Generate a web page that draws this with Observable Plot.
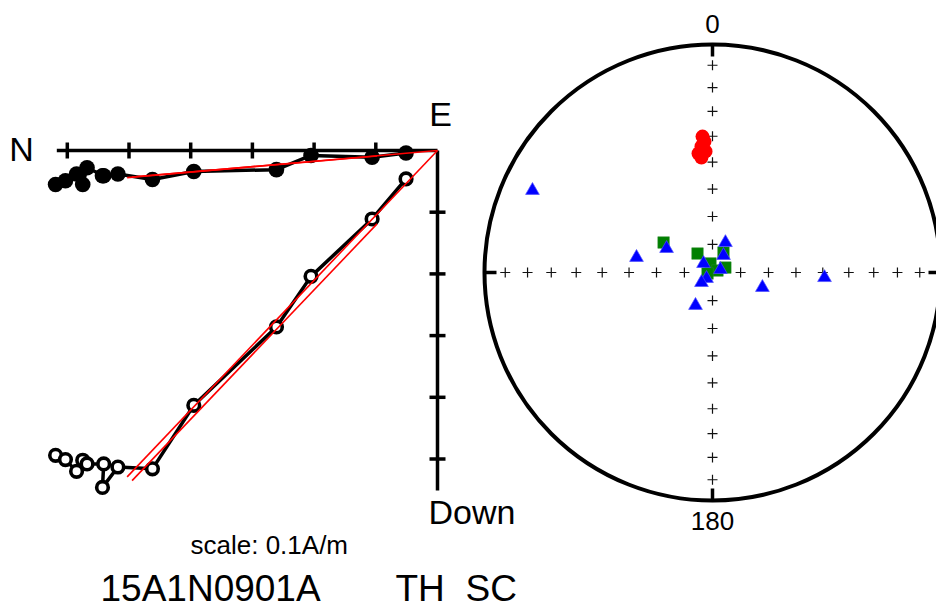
<!DOCTYPE html>
<html><head><meta charset="utf-8">
<script src="https://cdn.jsdelivr.net/npm/d3@7"></script>
<script src="https://cdn.jsdelivr.net/npm/@observablehq/plot@0.6"></script>
<style>
body{margin:0;background:#fff;}
#wrap{position:relative;width:936px;height:612px;overflow:hidden;background:#fff;}
#wrap svg{position:absolute;top:0;}
</style></head><body><div id="wrap"></div>
<script>
// ---- Zijderveld data: demagnetization steps (A/m) ----
const stepN = [0.619, 0.603, 0.585, 0.575, 0.568, 0.541, 0.543, 0.518, 0.462, 0.395, 0.261, 0.205, 0.106, 0.051];
const stepE = [-0.055, -0.049, -0.038, -0.055, -0.028, -0.041, -0.041, -0.038, -0.047, -0.034, -0.031, -0.008, -0.011, -0.004];
const stepD = [0.494, 0.501, 0.520, 0.502, 0.508, 0.508, 0.546, 0.513, 0.516, 0.413, 0.286, 0.204, 0.111, 0.046];
// PCA fit line endpoints (anchored, free)
const fitN = [[0, 0.503], [0.098, 0.495]];
const fitE = [[0, -0.044], [-0.009, -0.043]];
const fitD = [[0, 0.529], [0.119, 0.535]];
// axis ticks (A/m)
const tickN = [0.1, 0.2, 0.3, 0.4, 0.5, 0.6];
const tickD = [0.1, 0.2, 0.3, 0.4, 0.5];
const axisEndN = 0.617, axisEndD = 0.551;

// ---- Stereonet data (declination, inclination in degrees) ----
const redDec = [355.8, 356.5, 355.0, 356.7, 353.3, 354.5];
const redInc = [40.0, 42.0, 43.8, 45.8, 46.4, 48.0];
const blueDec = [294.5, 281.2, 297.6, 23.4, 32.9, 315, 69.4, 225, 227.7, 207.3, 106.7, 92.6];
const blueInc = [14.3, 62.2, 71.5, 78.4, 82.8, 85.5, 87.0, 87.0, 84.7, 76.8, 71.4, 49.3];
const greenDec = [301.5, 321.7, 28.8, 347.5, 68.2, 258.7, 69];
const greenInc = [69.5, 81.4, 81.9, 86.7, 88.1, 88.2, 85.1];
const gridInc = [10, 20, 30, 40, 50, 60, 70, 80];
const gridDec = [0, 90, 180, 270];
const dirLabels = ["0", "180"];

// ---- layout ----
const W = 936, H = 612, K = 617, OX = 437, OY = 150;
const FONT = "'Liberation Sans', Arial, Helvetica, sans-serif";
const tl = 8 / K;

const steps = stepN.map((n, i) => ({n, e: stepE[i], d: stepD[i]}));
const fits = fitN.map((n, i) => ({n1: n[0], n2: n[1], e1: fitE[i][0], e2: fitE[i][1], d1: fitD[i][0], d2: fitD[i][1]}));

const left = Plot.plot({
  width: W, height: H, margin: 0,
  x: {type: "linear", domain: [OX / K, (OX - W) / K], range: [0, W], axis: null},
  y: {type: "linear", domain: [-OY / K, (H - OY) / K], range: [0, H], axis: null},
  style: {background: "white", fontFamily: FONT, color: "black"},
  marks: [
    Plot.link([0], {x1: 0, x2: axisEndN, y1: 0, y2: 0, stroke: "black", strokeWidth: 3.5}),
    Plot.link([0], {x1: 0, x2: 0, y1: 0, y2: axisEndD, stroke: "black", strokeWidth: 3.5, strokeLinecap: "butt"}),
    Plot.link(tickN, {x1: d => d, x2: d => d, y1: -tl, y2: tl, stroke: "black", strokeWidth: 3.5}),
    Plot.link(tickD, {x1: -tl, x2: tl, y1: d => d, y2: d => d, stroke: "black", strokeWidth: 3.5}),
    // horizontal projection (N vs E)
    Plot.line(steps, {x: "n", y: d => -d.e, stroke: "black", strokeWidth: 3.5}),
    Plot.dot(steps, {x: "n", y: d => -d.e, r: 7.8, fill: "black", stroke: "none"}),
    // vertical projection (N vs Down)
    Plot.line(steps, {x: "n", y: "d", stroke: "black", strokeWidth: 3.5}),
    Plot.dot(steps, {x: "n", y: "d", r: 5.8, fill: "white", stroke: "black", strokeWidth: 3.6}),
    // fits
    Plot.link(fits, {x1: "n1", x2: "n2", y1: d => -d.e1, y2: d => -d.e2, stroke: "red", strokeWidth: 1.6}),
    Plot.link(fits, {x1: "n1", x2: "n2", y1: "d1", y2: "d2", stroke: "red", strokeWidth: 1.6}),
    // axis labels
    Plot.text(["N"], {x: axisEndN, y: 0, dx: -23, textAnchor: "end", fontSize: 34}),
    Plot.text(["E"], {x: 0, y: 0, dx: 3, dy: -35, fontSize: 34}),
    Plot.text(["Down"], {x: 0, y: axisEndD, dx: -9, dy: 23, textAnchor: "start", fontSize: 34}),
    // captions
    Plot.text(["scale: 0.1A/m"], {frameAnchor: "top-left", dx: 190, dy: 545, textAnchor: "start", lineAnchor: "middle", fontSize: 26}),
    Plot.text(["15A1N0901A"], {frameAnchor: "top-left", dx: 100, dy: 589, textAnchor: "start", lineAnchor: "middle", fontSize: 37}),
    Plot.text(["TH"], {frameAnchor: "top-left", dx: 395, dy: 589, textAnchor: "start", lineAnchor: "middle", fontSize: 37}),
    Plot.text(["SC"], {frameAnchor: "top-left", dx: 465, dy: 589, textAnchor: "start", lineAnchor: "middle", fontSize: 37})
  ]
});

// equal-area projection
const proj = (dec, inc) => {
  const r = Math.SQRT2 * Math.sin((90 - inc) / 2 * Math.PI / 180);
  const a = dec * Math.PI / 180;
  return {x: r * Math.sin(a), y: r * Math.cos(a)};
};
const RW = 466, RH = 612, R = 228, CX = 242, CY = 272;
const red = redDec.map((d, i) => proj(d, redInc[i]));
const blue = blueDec.map((d, i) => proj(d, blueInc[i]));
const green = greenDec.map((d, i) => proj(d, greenInc[i]));
const grid = gridDec.flatMap(d => gridInc.map(i => proj(d, i)));
const rim = gridDec.map(d => ({a: proj(d, 0), t: 12 / R}));
const crossSymbol = {draw(ctx, size) {const r = Math.sqrt(size / Math.PI); ctx.moveTo(-r, 0); ctx.lineTo(r, 0); ctx.moveTo(0, -r); ctx.lineTo(0, r);}};

const right = Plot.plot({
  width: RW, height: RH, margin: 0,
  x: {type: "linear", domain: [-CX / R, (RW - CX) / R], range: [0, RW], axis: null},
  y: {type: "linear", domain: [CY / R, (CY - RH) / R], range: [0, RH], axis: null},
  style: {background: "transparent", fontFamily: FONT, color: "black"},
  marks: [
    Plot.dot([{x: 0, y: 0}], {x: "x", y: "y", r: R, fill: "none", stroke: "black", strokeWidth: 4}),
    Plot.link(rim, {x1: d => d.a.x, y1: d => d.a.y, x2: d => d.a.x * (1 - d.t), y2: d => d.a.y * (1 - d.t), stroke: "black", strokeWidth: 3.5}),
    Plot.dot(grid, {x: "x", y: "y", symbol: crossSymbol, r: 5, fill: "none", stroke: "#111", strokeWidth: 1.2}),
    Plot.dot(green, {x: "x", y: "y", symbol: "square", r: 6.5, fill: "#008000", stroke: "#2a8a2a", strokeWidth: 0.5}),
    Plot.dot(blue, {x: "x", y: "y", symbol: "triangle", r: 5.1, fill: "#0000ff", stroke: "#4d4dff", strokeWidth: 0.7}),
    Plot.dot(red, {x: "x", y: "y", r: 7, fill: "#ff0000", stroke: "none"}),
    Plot.text([dirLabels[0]], {x: 0, y: 1, dy: -20, fontSize: 26}),
    Plot.text([dirLabels[1]], {x: 0, y: -1, dy: 21, fontSize: 26})
  ]
});
right.style.left = "470px";
left.style.left = "0px";
const wrap = document.getElementById("wrap");
wrap.appendChild(left);
wrap.appendChild(right);
</script></body></html>
